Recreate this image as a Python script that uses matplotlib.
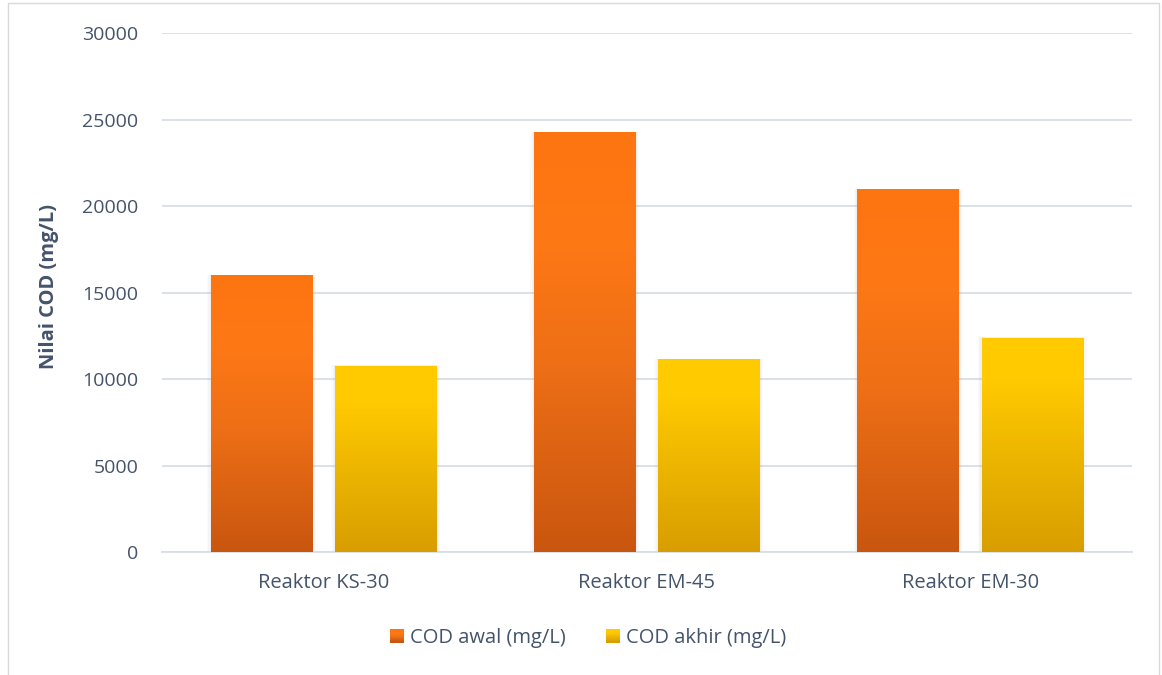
import numpy as np
import matplotlib
matplotlib.use("Agg")
import matplotlib.pyplot as plt
from matplotlib.colors import LinearSegmentedColormap
from matplotlib.patches import Rectangle
from matplotlib.legend_handler import HandlerBase

categories = ["Reaktor KS-30", "Reaktor EM-45", "Reaktor EM-30"]
cod_awal = [16000, 24280, 21000]
cod_akhir = [10780, 11170, 12400]
series_names = ["COD awal (mg/L)", "COD akhir (mg/L)"]
yticks = [0, 5000, 10000, 15000, 20000, 25000, 30000]

text_color = "#44546A"
font = "Open Sans"

orange_cmap = LinearSegmentedColormap.from_list(
    "og", [(0.0, "#C9560F"), (0.45, "#EE6F16"), (0.75, "#FE7815"), (1.0, "#FD7511")])
yellow_cmap = LinearSegmentedColormap.from_list(
    "yg", [(0.0, "#D89E00"), (0.45, "#EDB600"), (0.8, "#FFCA00"), (1.0, "#FFCC00")])

fig = plt.figure(figsize=(11.62, 6.75), dpi=100)
ax = fig.add_axes([0.1394, 0.1822, 0.8346, 0.7688])

# figure border
fig.patches.append(Rectangle((0.007, -0.01), 0.99, 1.005, transform=fig.transFigure,
                             fill=False, edgecolor="#D9D9D9", linewidth=1.0, zorder=0))

x = np.arange(len(categories))
width = 0.313
offset = 0.192

grad = np.linspace(0, 1, 256).reshape(-1, 1)

def draw_bars(xs, vals, cmap):
    bars = ax.bar(xs, vals, width=width, color="none", edgecolor="none", zorder=3)
    for b in bars:
        x0, w, h = b.get_x(), b.get_width(), b.get_height()
        # soft shadow
        for i, a in enumerate([0.05, 0.04, 0.03]):
            d = (i + 1) * 0.004
            ax.add_patch(Rectangle((x0 - d, 0), w + 2 * d, h + d * 900, facecolor="#7F7F7F",
                                   alpha=a, edgecolor="none", zorder=2))
        im = ax.imshow(grad, cmap=cmap, origin="lower", aspect="auto",
                       extent=[x0, x0 + w, 0, h], zorder=4)
        im.set_clip_path(b)
    return bars

draw_bars(x - offset, cod_awal, orange_cmap)
draw_bars(x + offset, cod_akhir, yellow_cmap)

ax.set_xlim(-0.5, len(categories) - 0.5)
ax.set_ylim(0, 30000)
ax.set_yticks(yticks)
ax.set_yticklabels([str(v) for v in yticks])
ax.set_xticks(x)
ax.set_xticklabels(categories)
ax.yaxis.grid(True, color="#D9DEE6", linewidth=1.3, zorder=0)
ax.set_axisbelow(True)
for s in ["top", "right", "left"]:
    ax.spines[s].set_visible(False)
ax.spines["bottom"].set_color("#D9DEE6")
ax.spines["bottom"].set_linewidth(1.3)
ax.tick_params(axis="y", length=0, colors=text_color, labelsize=14, pad=17)
ax.tick_params(axis="x", length=0, colors=text_color, labelsize=14.5, pad=15)
for lab in ax.get_xticklabels() + ax.get_yticklabels():
    lab.set_fontfamily(font)

ax.set_ylabel("Nilai COD (mg/L)", fontsize=14.5, fontweight="bold", color=text_color,
              fontfamily=font)
ax.yaxis.set_label_coords(-0.106, 0.512)


class GradHandler(HandlerBase):
    def __init__(self, cmap):
        super().__init__()
        self.cmap = cmap

    def create_artists(self, legend, orig_handle, xdescent, ydescent, width, height, fontsize, trans):
        arts = []
        n = 12
        s = height * 0.95
        x0 = -xdescent + (width - s)
        y0 = -ydescent + (height - s) / 2
        for i in range(n):
            r = Rectangle((x0, y0 + s * i / n), s, s / n + 0.3,
                          facecolor=self.cmap(i / (n - 1)), edgecolor="none", transform=trans)
            arts.append(r)
        return arts


h1 = Rectangle((0, 0), 1, 1)
h2 = Rectangle((0, 0), 1, 1)
leg = fig.legend([h1, h2], series_names, loc="center", bbox_to_anchor=(0.505, 0.055),
                 ncol=2, frameon=False, handler_map={h1: GradHandler(orange_cmap), h2: GradHandler(yellow_cmap)},
                 prop={"family": font, "size": 14.5}, handlelength=0.8, handletextpad=0.3,
                 columnspacing=1.9)
for t in leg.get_texts():
    t.set_color(text_color)

fig.savefig("out.png", dpi=100)
